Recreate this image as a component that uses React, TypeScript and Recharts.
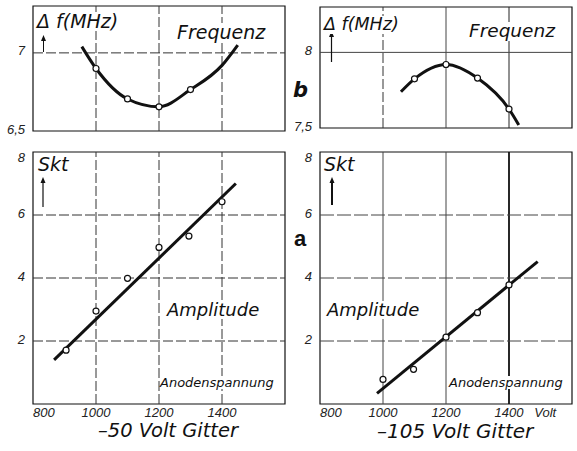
import React from 'react'
import { LineChart, Line, XAxis, YAxis, ReferenceLine, ReferenceArea } from 'recharts'

// Frequenz, -50 V Gitter (MHz über Anodenspannung)
const freq50Curve = [
  { x: 955, y: 7.04 },
  { x: 1000, y: 6.9 },
  { x: 1100, y: 6.705 },
  { x: 1200, y: 6.655 },
  { x: 1300, y: 6.765 },
  { x: 1400, y: 6.92 },
  { x: 1450, y: 7.05 },
]
const freq50Points = [
  { x: 1000, y: 6.9 },
  { x: 1100, y: 6.705 },
  { x: 1200, y: 6.655 },
  { x: 1300, y: 6.765 },
]

// Frequenz, -105 V Gitter
const freq105Curve = [
  { x: 1057, y: 7.74 },
  { x: 1100, y: 7.825 },
  { x: 1200, y: 7.92 },
  { x: 1300, y: 7.83 },
  { x: 1400, y: 7.625 },
  { x: 1431, y: 7.52 },
]
const freq105Points = [
  { x: 1100, y: 7.825 },
  { x: 1200, y: 7.92 },
  { x: 1300, y: 7.83 },
  { x: 1400, y: 7.625 },
]

// Amplitude in Skalenteilen
const amp50Line = [
  { x: 867, y: 1.4 },
  { x: 1444, y: 7.0 },
]
const amp50Points = [
  { x: 905, y: 1.71 },
  { x: 1000, y: 2.95 },
  { x: 1100, y: 3.99 },
  { x: 1200, y: 4.97 },
  { x: 1295, y: 5.33 },
  { x: 1400, y: 6.42 },
]
const amp105Line = [
  { x: 981, y: 0.34 },
  { x: 1491, y: 4.52 },
]
const amp105Points = [
  { x: 1000, y: 0.78 },
  { x: 1097, y: 1.1 },
  { x: 1200, y: 2.12 },
  { x: 1300, y: 2.9 },
  { x: 1400, y: 3.78 },
]

const voltDomain = [800, 1600]
const voltGrid = [1000, 1200, 1400]
const voltTicks = [800, 1000, 1200, 1400]
const voltTicksRight = [800, 1000, 1200, 1400, 1515]
const freq50Domain = [6.5, 7.3]
const freq50Ticks = [6.5, 7]
const freq50Grid = [7]
const freq105Domain = [7.5, 8.3]
const freq105Ticks = [7.5, 8]
const freq105Grid = [8]
const ampDomain = [0, 8]
const ampTicks = [2, 4, 6, 8]
const ampGrid = [2, 4, 6]

const INK = '#111'
const LABEL_FONT = '"DejaVu Sans", sans-serif'
const TICK_FONT = '"Liberation Sans", Arial, sans-serif'

type Pt = { x: number; y: number }
type GridStyle = { stroke: string; strokeWidth: number; strokeDasharray?: string }

const dashed: GridStyle = { stroke: '#333', strokeWidth: 1, strokeDasharray: '10 3' }
const solid: GridStyle = { stroke: '#444', strokeWidth: 1 }
const heavy: GridStyle = { stroke: '#111', strokeWidth: 1.8 }

interface PanelProps {
  left: number
  top: number
  height: number
  margin: { top: number; right: number; bottom: number; left: number }
  yDomain: number[]
  yTicks: number[]
  yGrid: number[]
  xTicks?: number[]
  curve: Pt[]
  points: Pt[]
  curveType: 'monotone' | 'linear'
  xGridStyle: (v: number) => GridStyle
  yGridStyle: (v: number) => GridStyle
}

function VoltTick(props: any) {
  const { x, y, payload } = props
  const v = payload.value as number
  const label = v === 1515 ? 'Volt' : String(v)
  return (
    <text
      x={x}
      y={y}
      dy="0.71em"
      textAnchor={v === 800 ? 'start' : 'middle'}
      fontSize={13}
      fontStyle="italic"
      fontFamily={TICK_FONT}
      fill="#222"
    >
      {label}
    </text>
  )
}

function makeValueTick(top: number) {
  return function ValueTick(props: any) {
    const { x, y, payload } = props
    const v = payload.value as number
    // Beschriftung sitzt knapp über der Gitterlinie, die oberste unter dem Rand
    const shift = v === top ? 5 : -2
    return (
      <text
        x={x}
        y={y + shift}
        dy="0.355em"
        textAnchor="end"
        fontSize={13}
        fontStyle="italic"
        fontFamily={TICK_FONT}
        fill="#222"
      >
        {String(v).replace('.', ',')}
      </text>
    )
  }
}

function Panel(p: PanelProps) {
  const ValueTick = makeValueTick(p.yDomain[1])
  return (
    <div style={{ position: 'absolute', left: p.left, top: p.top }}>
      <LineChart width={290} height={p.height} margin={p.margin}>
        <XAxis
          type="number"
          dataKey="x"
          domain={voltDomain}
          ticks={p.xTicks}
          hide={!p.xTicks}
          height={20}
          axisLine={false}
          tickLine={false}
          tickSize={0}
          tickMargin={4}
          interval={0}
          tick={<VoltTick />}
          allowDataOverflow
        />
        <YAxis
          type="number"
          domain={p.yDomain}
          ticks={p.yTicks}
          width={33}
          axisLine={false}
          tickLine={false}
          tickSize={0}
          tickMargin={8}
          interval={0}
          tick={<ValueTick />}
          allowDataOverflow
        />
        {voltGrid.map((v) => (
          <ReferenceLine key={'x' + v} x={v} {...p.xGridStyle(v)} />
        ))}
        {p.yGrid.map((v) => (
          <ReferenceLine key={'y' + v} y={v} {...p.yGridStyle(v)} />
        ))}
        <ReferenceArea
          x1={voltDomain[0]}
          x2={voltDomain[1]}
          y1={p.yDomain[0]}
          y2={p.yDomain[1]}
          fill="none"
          stroke={INK}
          strokeWidth={1.2}
        />
        <Line
          data={p.curve}
          dataKey="y"
          type={p.curveType}
          stroke={INK}
          strokeWidth={3}
          dot={false}
          isAnimationActive={false}
        />
        <Line
          data={p.points}
          dataKey="y"
          stroke="none"
          dot={{ r: 3, fill: '#fff', stroke: INK, strokeWidth: 1.2 }}
          isAnimationActive={false}
        />
      </LineChart>
    </div>
  )
}

function Txt(props: {
  left: number
  top: number
  size: number
  children: React.ReactNode
  italic?: boolean
  bold?: boolean
  family?: string
}) {
  return (
    <div
      style={{
        position: 'absolute',
        left: props.left,
        top: props.top,
        fontSize: props.size,
        lineHeight: 1,
        fontFamily: props.family ?? LABEL_FONT,
        fontStyle: props.italic === false ? 'normal' : 'italic',
        fontWeight: props.bold ? 700 : 400,
        whiteSpace: 'nowrap',
        color: INK,
        background: '#fff',
      }}
    >
      {props.children}
    </div>
  )
}

function Arrow({ x, y1, y2, w }: { x: number; y1: number; y2: number; w: number }) {
  return (
    <g>
      <line x1={x} y1={y1} x2={x} y2={y2 + 4} stroke={INK} strokeWidth={w} />
      <polygon points={`${x - 2.5},${y2 + 6} ${x + 2.5},${y2 + 6} ${x},${y2}`} fill={INK} />
    </g>
  )
}

export default function App() {
  return (
    <div
      style={{
        position: 'absolute',
        left: 0,
        top: 0,
        width: 577,
        height: 451,
        background: '#fff',
        overflow: 'hidden',
      }}
    >
      <Panel
        left={0}
        top={0}
        height={142}
        margin={{ top: 6, right: 5, bottom: 11, left: 0 }}
        yDomain={freq50Domain}
        yTicks={freq50Ticks}
        yGrid={freq50Grid}
        curve={freq50Curve}
        points={freq50Points}
        curveType="monotone"
        xGridStyle={() => dashed}
        yGridStyle={() => dashed}
      />
      <Panel
        left={287}
        top={0}
        height={142}
        margin={{ top: 7, right: 5, bottom: 14, left: 0 }}
        yDomain={freq105Domain}
        yTicks={freq105Ticks}
        yGrid={freq105Grid}
        curve={freq105Curve}
        points={freq105Points}
        curveType="monotone"
        xGridStyle={(v) => (v === 1000 ? dashed : v === 1400 ? { ...solid, stroke: '#222' } : solid)}
        yGridStyle={() => solid}
      />
      <Panel
        left={0}
        top={140}
        height={290}
        margin={{ top: 12, right: 5, bottom: 6, left: 0 }}
        yDomain={ampDomain}
        yTicks={ampTicks}
        yGrid={ampGrid}
        xTicks={voltTicks}
        curve={amp50Line}
        points={amp50Points}
        curveType="linear"
        xGridStyle={() => dashed}
        yGridStyle={() => dashed}
      />
      <Panel
        left={287}
        top={140}
        height={290}
        margin={{ top: 12, right: 5, bottom: 6, left: 0 }}
        yDomain={ampDomain}
        yTicks={ampTicks}
        yGrid={ampGrid}
        xTicks={voltTicksRight}
        curve={amp105Line}
        points={amp105Points}
        curveType="linear"
        xGridStyle={(v) => (v === 1400 ? heavy : solid)}
        yGridStyle={() => ({ ...solid, strokeDasharray: '14 3' })}
      />

      <svg
        width={577}
        height={451}
        style={{ position: 'absolute', left: 0, top: 0, pointerEvents: 'none' }}
      >
        <Arrow x={43.5} y1={52} y2={35} w={1} />
        <Arrow x={331.5} y1={62} y2={31} w={1.2} />
        <Arrow x={43} y1={207} y2={177} w={1.2} />
        <Arrow x={332} y1={205} y2={177} w={2} />
      </svg>

      <Txt left={37} top={12} size={19}>Δ f(MHz)</Txt>
      <Txt left={177} top={23} size={19}>Frequenz</Txt>
      <Txt left={324} top={16} size={17.5}>Δ f(MHz)</Txt>
      <Txt left={469} top={22} size={18.5}>Frequenz</Txt>
      <Txt left={293} top={80} size={21} bold>b</Txt>

      <Txt left={38} top={155} size={19}>Skt</Txt>
      <Txt left={167} top={301} size={18}>Amplitude</Txt>
      <Txt left={160} top={376} size={13}>Anodenspannung</Txt>

      <Txt left={324} top={155} size={19}>Skt</Txt>
      <Txt left={327} top={301} size={18}>Amplitude</Txt>
      <Txt left={449} top={376} size={13}>Anodenspannung</Txt>
      <Txt left={294} top={228} size={22} bold italic={false} family={TICK_FONT}>a</Txt>

      <Txt left={98} top={421} size={19.5}>–50 Volt Gitter</Txt>
      <Txt left={377} top={421} size={20}>–105 Volt Gitter</Txt>
    </div>
  )
}
